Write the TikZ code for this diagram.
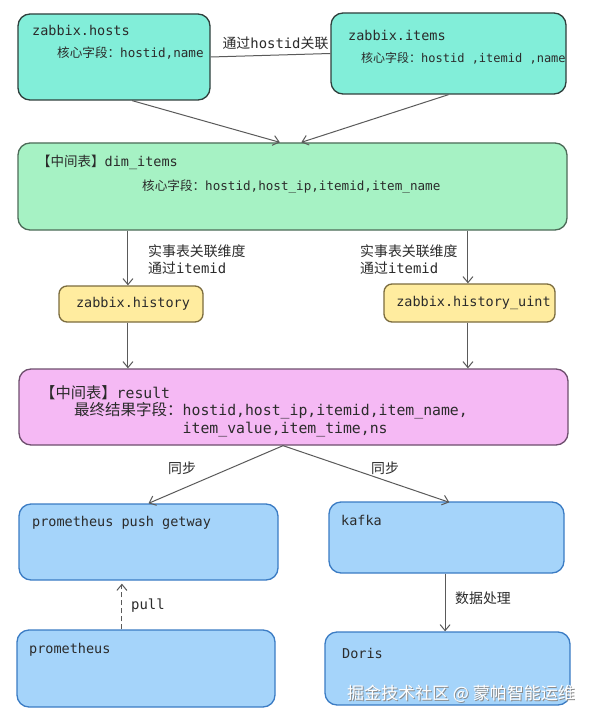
\documentclass[tikz,border=0pt]{standalone}
\usepackage{fontspec}
\setmainfont{DejaVu Sans}
\setmonofont{DejaVu Sans Mono}
\newfontfamily\cjk{Noto Sans CJK SC}
\usetikzlibrary{arrows.meta,calc}
\newcommand{\zh}[1]{{\cjk #1}}
\definecolor{tq}{HTML}{82EED9}
\definecolor{tqb}{HTML}{2F3F3C}
\definecolor{gn}{HTML}{A6F2C4}
\definecolor{gnb}{HTML}{4D6B58}
\definecolor{yl}{HTML}{FFEC9F}
\definecolor{ylb}{HTML}{7B6C3E}
\definecolor{pk}{HTML}{F5B9F4}
\definecolor{pkb}{HTML}{6E4F6E}
\definecolor{bl}{HTML}{A5D4FA}
\definecolor{blb}{HTML}{3B7CC4}
\definecolor{txt}{HTML}{2B2B2B}
\definecolor{ln}{HTML}{5A5A5A}
\tikzset{
  box/.style={draw, line width=1.3pt, rounded corners=12pt, inner sep=0pt},
  tx/.style={inner sep=0pt, text=txt, font=\ttfamily\fontsize{13.5}{16}\selectfont},
  fld/.style={inner sep=0pt, text=txt, font=\ttfamily\fontsize{12.6}{15}\selectfont},
  lbl/.style={inner sep=0pt, text=txt, font=\ttfamily\fontsize{13.9}{16.5}\selectfont},
  con/.style={draw=ln, line width=1pt},
  arr/.style={con, -{Straight Barb[length=6pt,width=10pt,line width=1pt]}},
}
\begin{document}
\begin{tikzpicture}[x=1pt,y=-1pt]
\useasboundingbox[fill=white] (0,0) rectangle (596,722);
% boxes
\node[box, fill=tq, draw=tqb, minimum width=192pt, minimum height=86pt] (hosts) at (114,57) {};
\node[box, fill=tq, draw=tqb, minimum width=235pt, minimum height=81pt] (items) at (448.5,53.5) {};
\node[box, fill=gn, draw=gnb, minimum width=549pt, minimum height=87pt] (dim) at (292.5,186.5) {};
\node[box, fill=yl, draw=ylb, rounded corners=8pt, minimum width=144pt, minimum height=36pt] (hist) at (131,304) {};
\node[box, fill=yl, draw=ylb, rounded corners=8pt, minimum width=171pt, minimum height=38pt] (uint) at (469.5,303) {};
\node[box, fill=pk, draw=pkb, minimum width=549pt, minimum height=76pt] (result) at (293.5,407) {};
\node[box, fill=bl, draw=blb, minimum width=259pt, minimum height=76pt] (push) at (148.5,542) {};
\node[box, fill=bl, draw=blb, minimum width=235pt, minimum height=71pt] (kafka) at (446.5,537.5) {};
\node[box, fill=bl, draw=blb, minimum width=258pt, minimum height=77pt] (prom) at (146,668.5) {};
\node[box, fill=bl, draw=blb, minimum width=245pt, minimum height=73pt] (doris) at (447.5,668.5) {};
% box texts
\node[tx, anchor=west] (hostsT) at (32,30) {zabbix.hosts};
\node[fld, anchor=west] (hostsF) at (57,53) {\zh{核心字段：}hostid,name};
\node[tx, anchor=west] (itemsT) at (348,35) {zabbix.items};
\node[fld, anchor=west, font=\ttfamily\fontsize{12}{14}\selectfont] (itemsF) at (361,58) {\zh{核心字段：}hostid ,itemid ,name};
\node[tx, anchor=west] (dimT) at (37,162) {\zh{【中间表】}dim\_items};
\node[fld, anchor=west] (dimF) at (142,187) {\zh{核心字段：}hostid,host\_ip,itemid,item\_name};
\node[tx] (histT) at (133,304) {zabbix.history};
\node[tx] (uintT) at (473.5,303) {zabbix.history\_uint};
\node[tx, anchor=west, font=\ttfamily\fontsize{14.8}{18}\selectfont] (resT) at (40,393) {{\cjk\fontsize{15.3}{18}\selectfont 【中间表】}result};
\node[tx, anchor=north west, font=\ttfamily\fontsize{14.8}{18}\selectfont] (resF) at (74,402)
  {\begin{tabular}{@{}l@{}l@{}}{\cjk\fontsize{15.5}{18}\selectfont 最终结果字段：}&hostid,host\_ip,itemid,item\_name,\\ &item\_value,item\_time,ns\end{tabular}};
\node[tx, anchor=west] (pushT) at (32,523) {prometheus push getway};
\node[tx, anchor=west] (kafkaT) at (341,520) {kafka};
\node[tx, anchor=west] (promT) at (29,650) {prometheus};
\node[tx, anchor=west] (dorisT) at (342,653) {Doris};
% connectors
\draw[con] (hosts.east) -- (items.west);
\node[lbl] (l0) at (275.5,43) {\zh{通过}hostid\zh{关联}};
\coordinate (hs) at ($(hosts.south west)!0.594!(hosts.south east)$);
\coordinate (d1) at ($(dim.north west)!0.477!(dim.north east)$);
\coordinate (d2) at ($(dim.north west)!0.516!(dim.north east)$);
\draw[arr] (hs) -- (d1);
\draw[arr] (items.south) -- (d2);
\coordinate (hn) at ($(hist.north west)!0.479!(hist.north east)$);
\coordinate (un) at ($(uint.north west)!0.491!(uint.north east)$);
\draw[arr] (dim.south -| hn) -- (hn);
\draw[arr] (dim.south -| un) -- (un);
\node[lbl, anchor=west, align=left] (l1) at (148,259.5) {\zh{实事表关联维度}\\\zh{通过}itemid};
\node[lbl, anchor=west, align=left] (l2) at (360,259.5) {\zh{实事表关联维度}\\\zh{通过}itemid};
\draw[arr] (hist.south -| hn) -- (result.north -| hn);
\draw[arr] (uint.south -| un) -- (result.north -| un);
\coordinate (rs) at ($(result.south west)!0.481!(result.south east)$);
\draw[arr] (rs) -- (push.north);
\draw[arr, shorten >=-3pt] (rs) -- (kafka.north);
\node[lbl] (l3) at (182,468) {\zh{同步}};
\node[lbl] (l4) at (385,468) {\zh{同步}};
\coordinate (pn) at ($(prom.north west)!0.407!(prom.north east)$);
\draw[arr, dashed, dash pattern=on 5pt off 3pt, shorten >=3pt] (pn) -- (push.south -| pn);
\node[lbl, anchor=west] (l5) at (131,606) {pull};
\coordinate (kn) at ($(kafka.south west)!0.494!(kafka.south east)$);
\draw[arr] (kn) -- (doris.north -| kn);
\node[lbl, anchor=west] (l6) at (455,598) {\zh{数据处理}};
% watermark
\node[inner sep=0pt, anchor=west, text=black!45, font=\cjk\fontsize{17}{20}\selectfont] (wms) at (348,695) {掘金技术社区 @ 蒙帕智能运维};
\node[inner sep=0pt, anchor=west, text=white, font=\cjk\fontsize{17}{20}\selectfont] (wm) at (347,694) {掘金技术社区 @ 蒙帕智能运维};
\end{tikzpicture}
\end{document}
